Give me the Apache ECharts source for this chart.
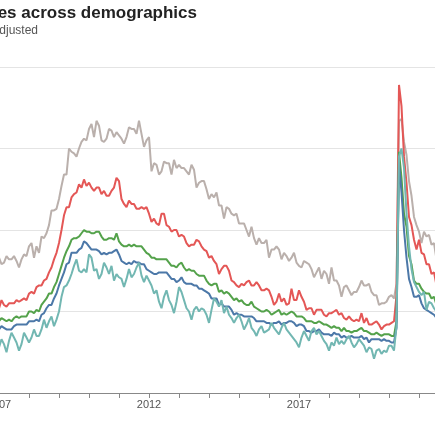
<!DOCTYPE html>
<html>
<head>
<meta charset="utf-8">
<script src="https://cdn.jsdelivr.net/npm/echarts@6/dist/echarts.min.js"></script>
<style>
html,body{margin:0;padding:0;background:#fff;}
#chart{width:435px;height:435px;}
</style>
</head>
<body>
<div id="chart"></div>
<script>
// Monthly unemployment rates (%), seasonally adjusted.
// Index 0 = Dec 2006, then Jan 2007 ... Jul 2021 (plotted at month end).
const firstYear = 2007;
const titleText = 'Unemployment rates across demographics';
const subtitleText = 'Seasonally adjusted';
const yTicks = [0, 5, 10, 15, 20];

const black = [8.3,
 7.9,8.0,8.4,8.2,8.2,8.4,8.1,7.7,8.2,8.5,8.4,9.0,
 9.2,8.3,9.0,8.6,9.6,9.5,9.8,10.3,11.2,11.2,11.3,11.9,
 12.7,13.4,13.4,15.0,14.8,14.7,14.5,15.0,15.4,15.6,15.5,16.2,
 16.5,15.7,16.7,16.4,15.5,15.4,15.6,16.2,16.1,15.7,16.0,15.8,
 15.6,15.3,15.7,16.3,16.2,16.2,15.9,16.7,15.9,15.1,15.5,15.7,
 13.6,14.1,14.0,13.4,13.6,14.2,14.1,14.1,13.4,14.3,13.8,14.0,
 13.8,13.8,13.6,13.4,14.0,13.7,12.6,12.9,13.0,13.0,12.5,11.9,
 12.2,12.0,12.3,11.5,11.5,10.7,11.4,11.3,11.0,10.9,11.0,10.4,
 10.4,10.4,10.0,9.6,10.2,9.5,9.1,9.5,9.2,9.2,9.4,8.3,
 8.8,8.8,9.0,8.8,8.2,8.6,8.4,8.1,8.3,8.6,8.0,7.8,
 7.7,8.1,8.0,7.9,7.6,7.1,7.4,7.7,7.0,7.5,7.3,6.7,
 7.7,6.9,6.9,6.6,5.9,6.5,6.6,6.3,6.0,6.2,6.2,6.5,
 6.9,6.6,6.6,6.7,6.2,6.0,6.0,5.4,5.5,5.5,5.6,5.9,
 6.0,5.8,6.7,16.7,16.8,15.4,14.6,13.0,12.1,10.8,10.3,9.9,
 9.2,9.9,9.6,9.7,9.1,9.2,8.2];

const hispanic = [5.2,
 5.7,5.4,5.3,5.5,5.5,5.5,5.7,5.6,5.7,5.8,5.7,6.1,
 6.2,6.1,6.5,6.6,6.6,6.9,7.0,7.4,7.7,8.2,8.6,9.2,
 10.0,10.9,11.4,11.4,12.0,12.2,12.3,12.8,12.6,13.1,12.7,12.9,
 12.6,12.4,12.6,12.6,12.2,12.4,12.1,12.1,12.4,12.6,13.2,13.0,
 11.9,11.6,11.4,11.8,11.6,11.6,11.3,11.3,11.4,11.3,11.4,11.0,
 10.5,10.7,10.4,10.3,11.0,11.0,10.3,10.2,9.9,10.0,10.0,9.6,
 9.7,9.6,9.2,9.0,9.1,9.1,9.4,9.3,9.0,8.8,8.7,8.3,
 8.4,8.1,7.9,7.3,7.6,7.8,7.8,7.5,6.9,6.8,6.6,6.5,
 6.7,6.6,6.8,6.9,6.6,6.6,6.8,6.6,6.3,6.3,6.4,6.3,
 5.9,5.4,5.6,6.1,5.6,5.8,5.4,5.5,6.4,5.7,5.7,6.3,
 5.9,5.6,5.1,5.2,5.2,4.8,5.1,5.1,5.1,4.8,4.7,4.9,
 4.9,5.0,5.1,4.8,4.9,4.6,4.5,4.7,4.5,4.4,4.5,4.4,
 4.9,4.3,4.6,4.2,4.2,4.3,4.4,4.2,3.9,4.1,4.2,4.2,
 4.3,4.4,6.0,18.9,17.6,14.5,12.9,10.8,10.3,9.4,8.8,9.4,
 8.6,8.5,7.9,7.9,7.3,7.4,6.6];

const total = [4.4,
 4.6,4.5,4.4,4.5,4.4,4.6,4.7,4.6,4.7,4.7,4.7,5.0,
 5.0,4.9,5.1,5.0,5.4,5.6,5.8,6.1,6.1,6.5,6.8,7.3,
 7.8,8.3,8.7,9.0,9.4,9.5,9.5,9.6,9.8,10.0,9.9,9.9,
 9.8,9.8,9.9,9.9,9.6,9.4,9.4,9.5,9.5,9.4,9.8,9.3,
 9.1,9.0,9.0,9.1,9.0,9.1,9.0,9.0,9.0,8.8,8.6,8.5,
 8.3,8.3,8.2,8.2,8.2,8.2,8.2,8.0,7.8,7.8,7.7,7.9,
 8.0,7.7,7.5,7.6,7.5,7.5,7.3,7.2,7.2,7.2,6.9,6.7,
 6.6,6.7,6.7,6.2,6.3,6.1,6.2,6.1,5.9,5.7,5.8,5.6,
 5.7,5.5,5.4,5.4,5.6,5.3,5.2,5.1,5.0,5.0,5.1,5.0,
 4.8,4.9,5.0,5.1,4.8,4.9,4.8,4.9,5.0,4.9,4.7,4.7,
 4.7,4.6,4.4,4.4,4.4,4.3,4.3,4.4,4.3,4.2,4.2,4.1,
 4.0,4.1,4.0,4.0,3.8,4.0,3.8,3.8,3.7,3.8,3.8,3.9,
 4.0,3.8,3.8,3.7,3.6,3.6,3.7,3.6,3.5,3.6,3.6,3.6,
 3.5,3.5,4.4,14.8,13.2,11.0,10.2,8.4,7.9,6.9,6.7,6.7,
 6.4,6.2,6.1,6.1,5.8,5.9,5.4];

const white = [3.9,
 4.1,4.0,3.9,3.9,3.9,4.1,4.2,4.2,4.2,4.2,4.2,4.4,
 4.4,4.4,4.5,4.4,4.8,4.9,5.2,5.4,5.4,5.8,6.1,6.6,
 7.0,7.4,7.9,8.0,8.6,8.6,8.6,8.8,8.9,9.3,9.2,9.0,
 8.8,8.8,8.8,8.7,8.5,8.6,8.5,8.6,8.6,8.7,8.8,8.5,
 8.1,8.0,7.9,8.0,7.9,8.1,8.0,8.0,7.9,7.9,7.6,7.5,
 7.4,7.3,7.3,7.4,7.4,7.4,7.4,7.2,7.0,7.0,6.8,6.9,
 7.1,6.8,6.7,6.7,6.7,6.6,6.6,6.4,6.4,6.3,6.2,6.1,
 5.8,5.8,5.8,5.4,5.5,5.3,5.3,5.3,5.1,4.8,4.9,4.8,
 4.8,4.7,4.7,4.7,4.7,4.6,4.4,4.4,4.4,4.4,4.3,4.3,
 4.2,4.3,4.3,4.4,4.2,4.3,4.3,4.4,4.4,4.3,4.1,4.2,
 4.2,4.1,3.8,3.8,3.7,3.8,3.8,3.9,3.7,3.6,3.6,3.6,
 3.5,3.7,3.6,3.6,3.4,3.5,3.4,3.4,3.5,3.4,3.4,3.4,
 3.5,3.3,3.4,3.1,3.3,3.3,3.3,3.3,3.2,3.3,3.2,3.2,
 3.1,3.1,4.0,14.1,12.3,10.0,8.3,7.0,6.5,5.9,5.9,6.0,
 5.5,5.2,5.1,5.0,4.9,4.8,4.6];

const asian = [2.8,
 3.3,3.0,2.5,3.2,3.7,3.4,3.1,2.6,3.0,3.7,3.4,3.1,
 3.4,3.9,3.5,3.5,3.9,4.5,4.0,4.4,4.7,4.1,4.5,5.0,
 5.9,6.5,6.6,6.9,7.3,7.8,8.2,7.5,7.4,7.6,7.4,8.5,
 8.3,7.5,7.6,7.0,7.3,8.0,7.7,7.3,7.8,6.9,7.3,7.1,
 7.0,6.5,7.0,7.6,7.1,7.3,7.7,8.0,7.2,6.8,7.2,6.9,
 6.6,6.1,6.3,5.6,5.2,5.9,6.3,5.7,5.4,4.9,5.6,6.5,
 6.2,5.7,5.2,5.0,4.5,5.1,5.3,5.0,5.2,5.1,4.8,4.3,
 5.1,5.8,5.6,5.3,5.7,4.9,5.3,4.8,4.6,4.3,4.6,4.8,
 4.4,3.9,4.2,4.6,4.0,3.8,3.5,3.9,4.1,3.7,3.8,3.9,
 4.3,4.0,3.8,3.6,4.0,4.3,3.9,3.7,3.5,3.3,3.1,2.8,
 3.4,3.8,3.5,3.2,3.8,4.0,3.6,3.8,3.5,3.2,3.0,2.6,
 3.1,2.9,3.4,3.0,3.2,3.0,3.3,3.5,3.1,2.8,3.0,3.3,
 3.1,2.9,2.5,2.8,2.7,2.1,2.6,2.7,2.4,2.6,2.5,2.9,
 2.9,2.6,4.1,14.5,15.0,13.8,11.0,9.0,7.6,6.8,6.5,6.2,
 6.0,6.2,5.1,5.6,5.5,5.2,5.0];

const seriesDefs = [
  {name: 'Black', values: black, color: '#bab0ac'},
  {name: 'Hispanic', values: hispanic, color: '#e45756'},
  {name: 'Total', values: total, color: '#54a24b'},
  {name: 'White', values: white, color: '#4c78a8'},
  {name: 'Asian', values: asian, color: '#72b7b2'}
];

const chart = echarts.init(document.getElementById('chart'), null, {renderer: 'canvas'});
const fontFamily = '"Liberation Sans", Arial, Helvetica, sans-serif';

chart.setOption({
  animation: false,
  backgroundColor: '#ffffff',
  title: [
    {text: titleText, right: 238, top: 5, padding: 0,
     textStyle: {fontSize: 17, fontWeight: 'bold', color: '#222', fontFamily: fontFamily}},
    {text: subtitleText, right: 397, top: 25, padding: 0,
     textStyle: {fontSize: 12, fontWeight: 'normal', color: '#555', fontFamily: fontFamily}}
  ],
  grid: {left: -1, right: -14, top: 67, bottom: 42, containLabel: false, outerBoundsMode: 'none'},
  xAxis: {
    type: 'value',
    min: firstYear,
    max: 2022,
    interval: 1,
    axisLine: {show: true, lineStyle: {color: '#888', width: 1}},
    axisTick: {show: true, length: 5, lineStyle: {color: '#888', width: 1}},
    splitLine: {show: false},
    axisLabel: {
      margin: 6,
      fontSize: 11,
      color: '#555',
      fontFamily: fontFamily,
      showMinLabel: true,
      formatter: function (v) {
        const r = Math.round(v);
        if (Math.abs(v - r) > 1e-6) return '';
        return ((r - firstYear) % 5 === 0) ? String(r) : '';
      }
    }
  },
  yAxis: {
    type: 'value',
    min: yTicks[0],
    max: yTicks[yTicks.length - 1],
    interval: 5,
    axisLine: {show: false},
    axisTick: {show: false},
    axisLabel: {show: false},
    splitLine: {show: true, lineStyle: {color: '#e4e4e4', width: 1}}
  },
  series: seriesDefs.map(function (s) {
    return {
      name: s.name,
      type: 'line',
      showSymbol: false,
      symbol: 'none',
      clip: true,
      data: s.values.map(function (v, i) { return [firstYear + i / 12, v]; }),
      lineStyle: {color: s.color, width: 2},
      itemStyle: {color: s.color}
    };
  })
});
</script>
</body>
</html>
